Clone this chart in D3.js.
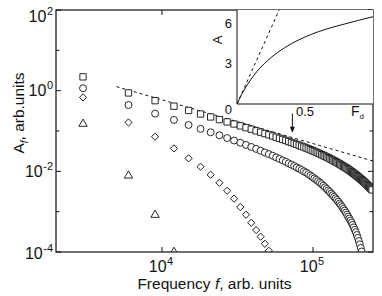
<!DOCTYPE html>
<html>
<head>
<meta charset="utf-8">
<script src="https://cdn.jsdelivr.net/npm/d3@7"></script>
<style>
  body { margin: 0; background: #fff; }
  svg { display: block; font-family: "Liberation Sans", Arial, sans-serif; }
</style>
</head>
<body>
<svg id="chart" width="382" height="296"></svg>
<script>
// harmonic frequencies (arb. units)
var freq = [3000,6000,9000,12000,15000,18000,21000,24000,27000,30000,33000,36000,39000,42000,45000,48000,51000,54000,57000,60000,
  63000,66000,69000,72000,75000,78000,81000,84000,87000,90000,93000,96000,99000,102000,105000,108000,111000,114000,117000,120000,
  123000,126000,129000,132000,135000,138000,141000,144000,147000,150000,153000,156000,159000,162000,165000,168000,171000,174000,177000,180000,
  183000,186000,189000,192000,195000,198000,201000,204000,207000,210000,213000,216000,219000,222000,225000,228000,231000,234000,237000,240000,
  243000,246000];

var squareA = [2.2,0.879,0.565,0.412,0.323,0.264,0.223,0.192,0.168,0.149,
  0.134,0.121,0.111,0.101,0.0935,0.0865,0.0805,0.0751,0.0701,0.0658,
  0.0618,0.0583,0.0548,0.0519,0.0491,0.0465,0.0442,0.0419,0.0399,0.0379,
  0.0361,0.0344,0.0327,0.0313,0.0298,0.0285,0.0272,0.0259,0.0248,0.0237,
  0.0227,0.0217,0.0207,0.0198,0.0190,0.0181,0.0174,0.0166,0.0159,0.0152,
  0.0145,0.0139,0.0133,0.0128,0.0122,0.0117,0.0112,0.0107,0.0102,0.00976,
  0.00934,0.00893,0.00853,0.00815,0.00778,0.00743,0.00710,0.00677,0.00647,0.00618,
  0.00590,0.00563,0.00537,0.00512,0.00488,0.00464,0.00443,0.00422,0.00401,0.00382,
  0.00364,0.00347];

var circleA = [1.15,0.441,0.270,0.188,0.141,0.113,0.0929,0.0782,0.0670,0.0581,
  0.0511,0.0451,0.0402,0.0360,0.0324,0.0293,0.0267,0.0243,0.0222,0.0203,
  0.0187,0.0172,0.0158,0.0146,0.0135,0.0125,0.0116,0.0108,0.0100,0.00930,
  0.00855,0.00787,0.00724,0.00668,0.00616,0.00568,0.00524,0.00483,0.00441,0.00403,
  0.00367,0.00336,0.00307,0.00280,0.00256,0.00234,0.00214,0.00195,0.00176,0.00159,
  0.00144,0.00130,0.00117,0.00106,0.000948,0.000846,0.000754,0.000674,0.000601,0.000536,
  0.000468,0.000408,0.000356,0.000310,0.000264,0.000224,0.000187,0.000155,0.000126,0.000103,
  0.000081];

var diamondA = [0.68,0.163,0.072,0.037,0.021,0.013,0.0082,0.0052,0.0033,0.0021,
  0.0013,0.00084,0.00053,0.00035,0.00024,0.00016,0.000107];

var triangleA = [0.15,0.0078,0.00083,0.0001];

// dashed power-law guide
var guideF = [5000, 250000];
var guideA = [1.26, 0.018];

// arrow marker
var arrowF = 73000;
var arrowA = [0.27, 0.09];

// y ticks
var yTicks = [1e2,1e1,1e0,1e-1,1e-2,1e-3,1e-4];
var yLabelExp = [2, 0, -2, -4];
var yLabelBase = [22, 96, 177, 259];
var xTicks = [1e4, 1e5];
var xLabelExp = [4, 5];

// inset data
var insetF = [0,0.02,0.05,0.1,0.15,0.2,0.3,0.4,0.5,0.6,0.7,0.8,0.9,1.0];
var insetA = [0,0.43,1.0,1.8,2.46,3.0,3.85,4.49,4.99,5.39,5.71,5.98,6.25,6.5];
var insetDashF = [0, 0.31];
var insetDashA = [0, 7];
var insetYTicks = [0,3,6];
var insetXTicks = [0.5];

var svg = d3.select("#chart");
var L = 56, R = 373, T = 10, B = 252;

var x = d3.scaleLog().domain([1987, 2.495e5]).range([L, R]);
var y = d3.scaleLog().domain([1e-4, 1e2]).range([B, T]);

var ink = "#111";

svg.append("defs").append("clipPath").attr("id", "clip")
  .append("rect").attr("x", L).attr("y", T).attr("width", R - L).attr("height", B - T);

var plot = svg.append("g").attr("clip-path", "url(#clip)");

// dashed guide
plot.append("path")
  .datum(d3.zip(guideF, guideA))
  .attr("d", d3.line().x(function(d){ return x(d[0]); }).y(function(d){ return y(d[1]); }))
  .attr("fill", "none").attr("stroke", ink).attr("stroke-width", 1)
  .attr("stroke-dasharray", "3,3");

function series(vals, shape) {
  var pts = vals.map(function(v, i){ return [freq[i], v]; });
  var g = plot.append("g");
  var sym = d3.symbol().type(shape.type).size(shape.size);
  g.selectAll("path").data(pts).enter().append("path")
    .attr("d", sym)
    .attr("transform", function(d){
      return "translate(" + x(d[0]) + "," + y(d[1]) + ")" + (shape.rot ? " rotate(" + shape.rot + ")" : "");
    })
    .attr("fill", "#fff").attr("stroke", ink).attr("stroke-width", 0.9);
}

series(squareA, {type: d3.symbolSquare, size: 40});
series(circleA, {type: d3.symbolCircle, size: 38});
series(diamondA, {type: d3.symbolSquare, size: 26, rot: 45});
series(triangleA, {type: d3.symbolTriangle, size: 30});

// arrow
var ax = x(arrowF);
svg.append("line")
  .attr("x1", ax).attr("x2", ax)
  .attr("y1", y(arrowA[0])).attr("y2", y(arrowA[1]) - 5)
  .attr("stroke", ink).attr("stroke-width", 1);
svg.append("path")
  .attr("d", "M" + (ax - 2.5) + "," + (y(arrowA[1]) - 6) + "L" + (ax + 2.5) + "," + (y(arrowA[1]) - 6) + "L" + ax + "," + y(arrowA[1]) + "Z")
  .attr("fill", ink);

// frame
svg.append("rect").attr("x", L).attr("y", T).attr("width", R - L).attr("height", B - T)
  .attr("fill", "none").attr("stroke", ink).attr("stroke-width", 1.2);

// y ticks (inward, both sides)
yTicks.forEach(function(t){
  var major = yLabelExp.indexOf(Math.round(Math.log10(t))) >= 0;
  var len = major ? 5 : 3.5;
  svg.append("line").attr("x1", L).attr("x2", L + len).attr("y1", y(t)).attr("y2", y(t)).attr("stroke", ink);
  svg.append("line").attr("x1", R).attr("x2", R - len).attr("y1", y(t)).attr("y2", y(t)).attr("stroke", ink);
});
xTicks.forEach(function(t){
  svg.append("line").attr("x1", x(t)).attr("x2", x(t)).attr("y1", B).attr("y2", B - 5).attr("stroke", ink);
  svg.append("line").attr("x1", x(t)).attr("x2", x(t)).attr("y1", T).attr("y2", T + 5).attr("stroke", ink);
});

function powLabel(sel, exp) {
  sel.append("tspan").text("10");
  sel.append("tspan").attr("dy", -7).attr("dx", 0.5).attr("font-size", 11).text(exp < 0 ? "-" + (-exp) : exp);
}

yLabelExp.forEach(function(e, i){
  var t = svg.append("text").attr("x", 53).attr("y", yLabelBase[i])
    .attr("text-anchor", "end").attr("font-size", 16).attr("fill", ink);
  powLabel(t, e);
});
xLabelExp.forEach(function(e){
  var t = svg.append("text").attr("x", x(Math.pow(10, e)) - 1).attr("y", 272)
    .attr("text-anchor", "middle").attr("font-size", 16).attr("fill", ink);
  powLabel(t, e);
});

// axis titles
var xt = svg.append("text").attr("x", (L + R) / 2).attr("y", 289)
  .attr("text-anchor", "middle").attr("font-size", 15.5).attr("fill", ink);
xt.append("tspan").text("Frequency ");
xt.append("tspan").attr("font-style", "italic").text("f");
xt.append("tspan").text(", arb. units");

var yt = svg.append("text").attr("transform", "translate(24,113) rotate(-90)")
  .attr("text-anchor", "middle").attr("font-size", 15.5).attr("fill", ink);
yt.append("tspan").text("A");
yt.append("tspan").attr("font-size", 10).attr("dy", 4).attr("font-style", "italic").text("f");
yt.append("tspan").attr("dy", -4).text(", arb.units");

// inset
var IL = 237, IB = 104;
var xi = d3.scaleLinear().domain([0, 1]).range([IL, R]);
var yi = d3.scaleLinear().domain([0, 7]).range([IB, T]);

svg.append("defs").append("clipPath").attr("id", "iclip")
  .append("rect").attr("x", IL).attr("y", T).attr("width", R - IL).attr("height", IB - T);

svg.append("rect").attr("x", IL).attr("y", T).attr("width", R - IL).attr("height", IB - T)
  .attr("fill", "#fff");
var ig = svg.append("g").attr("clip-path", "url(#iclip)");
ig.append("path").datum(d3.zip(insetF, insetA))
  .attr("d", d3.line().curve(d3.curveMonotoneX).x(function(d){ return xi(d[0]); }).y(function(d){ return yi(d[1]); }))
  .attr("fill", "none").attr("stroke", ink).attr("stroke-width", 1);
ig.append("path").datum(d3.zip(insetDashF, insetDashA))
  .attr("d", d3.line().x(function(d){ return xi(d[0]); }).y(function(d){ return yi(d[1]); }))
  .attr("fill", "none").attr("stroke", ink).attr("stroke-width", 1).attr("stroke-dasharray", "3,3");

svg.append("line").attr("x1", IL).attr("x2", IL).attr("y1", T).attr("y2", IB).attr("stroke", ink);
svg.append("line").attr("x1", IL).attr("x2", R).attr("y1", IB).attr("y2", IB).attr("stroke", ink);

insetYTicks.forEach(function(t){
  svg.append("text").attr("x", 232).attr("y", yi(t) + (t === 0 ? 10 : 4.5))
    .attr("text-anchor", "end").attr("font-size", 13).attr("fill", ink).text(t);
});
insetXTicks.forEach(function(t){
  svg.append("text").attr("x", xi(t)).attr("y", IB + 12)
    .attr("text-anchor", "middle").attr("font-size", 13).attr("fill", ink).text(t);
});
svg.append("text").attr("transform", "translate(222,40) rotate(-90)")
  .attr("text-anchor", "middle").attr("font-size", 13).attr("fill", ink).text("A");
var fd = svg.append("text").attr("x", 351).attr("y", 116).attr("font-size", 14).attr("fill", ink);
fd.append("tspan").text("F");
fd.append("tspan").attr("font-size", 8).attr("dy", 3).text("d");
</script>
</body>
</html>
